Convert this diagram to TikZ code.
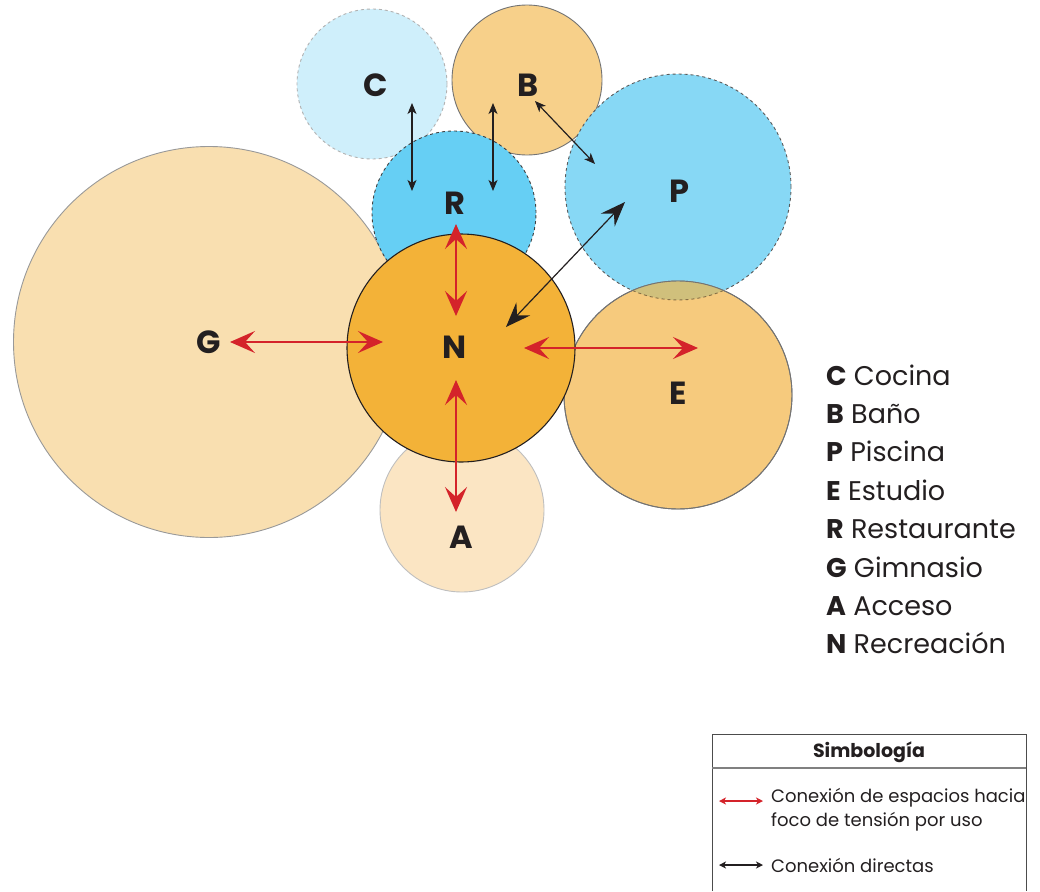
\documentclass[tikz,border=0pt]{standalone}
\usepackage{fontspec}
\setmainfont{Poppins}
\usetikzlibrary{arrows.meta}
\definecolor{cG}{HTML}{F9DFB0}
\definecolor{cA}{HTML}{FBE5C3}
\definecolor{cC}{HTML}{CFEFFB}
\definecolor{cB}{HTML}{F7D08A}
\definecolor{cR}{HTML}{66CFF4}
\definecolor{cP}{HTML}{87D8F5}
\definecolor{cE}{HTML}{F6CA7D}
\definecolor{cPE}{HTML}{D0C07C}
\definecolor{cN}{HTML}{F3B238}
\definecolor{ink}{HTML}{231F20}
\definecolor{redc}{HTML}{D4232A}
\tikzset{
  zone/.style={circle, inner sep=0pt, line width=0.9pt},
  lab/.style={font=\fontsize{32}{32}\selectfont\bfseries, text=ink, inner sep=0pt},
  blk/.style={draw=ink, line width=1.2pt, {Stealth[length=11pt,width=9pt,inset=3pt]}-{Stealth[length=11pt,width=9pt,inset=3pt]}},
  blkbig/.style={draw=ink, line width=1.2pt, {Stealth[length=25pt,width=19pt,inset=9pt]}-{Stealth[length=25pt,width=19pt,inset=9pt]}},
  redarr/.style={draw=redc, line width=1.5pt, {Stealth[length=25pt,width=22pt,inset=10pt]}-{Stealth[length=25pt,width=22pt,inset=10pt]}},
  leg/.style={font=\fontsize{27}{27}\selectfont, text=ink, anchor=base west, inner sep=0pt},
  smalltxt/.style={font=\fontsize{18}{18}\selectfont, text=ink, anchor=base west, inner sep=0pt},
}
\begin{document}
\begin{tikzpicture}[x=1pt,y=-1pt]
\useasboundingbox (0,0) rectangle (1040,891);
% circles
\node[zone, minimum size=391pt, fill=cG, draw=black!40] (G) at (209,342) {};
\node[zone, minimum size=164pt, fill=cA, draw=black!25] (A) at (462,510) {};
\node[zone, minimum size=150pt, fill=cC, draw=black!30, dashed] (C) at (372,84) {};
\node[zone, minimum size=150pt, fill=cB, draw=black!55] (B) at (527,80) {};
\node[zone, minimum size=164pt, fill=cR, draw=black!75, dashed] (R) at (454,213) {};
\node[zone, minimum size=226pt, fill=cP, draw=black!65, dashed] (P) at (678,187) {};
\node[zone, minimum size=228pt, fill=cE, draw=black!55] (E) at (678,395) {};
\begin{scope}
  \clip (E.center) circle[radius=114pt];
  \fill[cPE] (P.center) circle[radius=113pt];
  \draw[draw=black!45!cE, line width=0.9pt, dashed] (P.center) circle[radius=113pt];
\end{scope}
\draw[draw=black!55, line width=0.9pt] (E.center) circle[radius=114pt];
\node[zone, minimum size=228pt, fill=cN, draw=ink, line width=1.1pt] (N) at (461,348) {};
% labels
\node[lab] (Cl) at (376,85) {C};
\node[lab] (Bl) at (528,85) {B};
\node[lab] (Pl) at (679,191) {P};
\node[lab] (Rl) at (455,203) {R};
\node[lab] (Nl) at (455,347) {N};
\node[lab] (El) at (678,393) {E};
\node[lab] (Gl) at (209,342) {G};
\node[lab] (Al) at (461,537) {A};
% arrow end points
\coordinate (c1) at (412,103);
\coordinate (r1) at (412,191);
\coordinate (b1) at (493,103);
\coordinate (r2) at (493,191);
\coordinate (b2) at (535,101);
\coordinate (p1) at (595,164);
\coordinate (n1) at (506,327);
\coordinate (p2) at (625,202);
\coordinate (r3) at (456,224);
\coordinate (n2) at (456,316);
\coordinate (n3) at (456,380);
\coordinate (a1) at (456,512);
\coordinate (g1) at (230,342);
\coordinate (n4) at (383,342);
\coordinate (n5) at (524,348);
\coordinate (e1) at (698,348);
% black connectors
\draw[blk] (c1) -- (r1);
\draw[blk] (b1) -- (r2);
\draw[blk] (b2) -- (p1);
\draw[blkbig] (n1) -- (p2);
% red connectors
\draw[redarr] (r3) -- (n2);
\draw[redarr] (n3) -- (a1);
\draw[redarr] (g1) -- (n4);
\draw[redarr] (n5) -- (e1);
% legend
\node[leg] (L1) at (826,385) {\textbf{C} Cocina};
\node[leg] (L2) at (826,423.4) {\textbf{B} Baño};
\node[leg] (L3) at (826,461.8) {\textbf{P} Piscina};
\node[leg] (L4) at (826,500.2) {\textbf{E} Estudio};
\node[leg] (L5) at (826,538.6) {\textbf{R} Restaurante};
\node[leg] (L6) at (826,577) {\textbf{G} Gimnasio};
\node[leg] (L7) at (826,615.4) {\textbf{A} Acceso};
\node[leg] (L8) at (826,653.8) {\textbf{N} Recreación};
% symbology box
\draw[draw=black!70, line width=1pt] (712,891) -- (712,734) -- (1026,734) -- (1026,891);
\draw[draw=black!50, line width=1.8pt] (712,768) -- (1026,768);
\node[font=\fontsize{19}{19}\selectfont\bfseries, text=ink, anchor=base, inner sep=0pt] (ST) at (869,757) {Simbología};
\coordinate (lr1) at (719,801);
\coordinate (lr2) at (763,801);
\coordinate (lb1) at (719,865);
\coordinate (lb2) at (763,865);
\draw[draw=redc, line width=1.2pt, {Stealth[length=7pt,width=7pt,inset=2pt]}-{Stealth[length=7pt,width=7pt,inset=2pt]}] (lr1) -- (lr2);
\draw[draw=ink, line width=1.2pt, {Stealth[length=7pt,width=7pt,inset=2pt]}-{Stealth[length=7pt,width=7pt,inset=2pt]}] (lb1) -- (lb2);
\node[smalltxt] (T1) at (771,802) {Conexión de espacios hacia};
\node[smalltxt] (T2) at (771,826) {foco de tensión por uso};
\node[smalltxt] (T3) at (771,872) {Conexión directas};
\end{tikzpicture}
\end{document}
